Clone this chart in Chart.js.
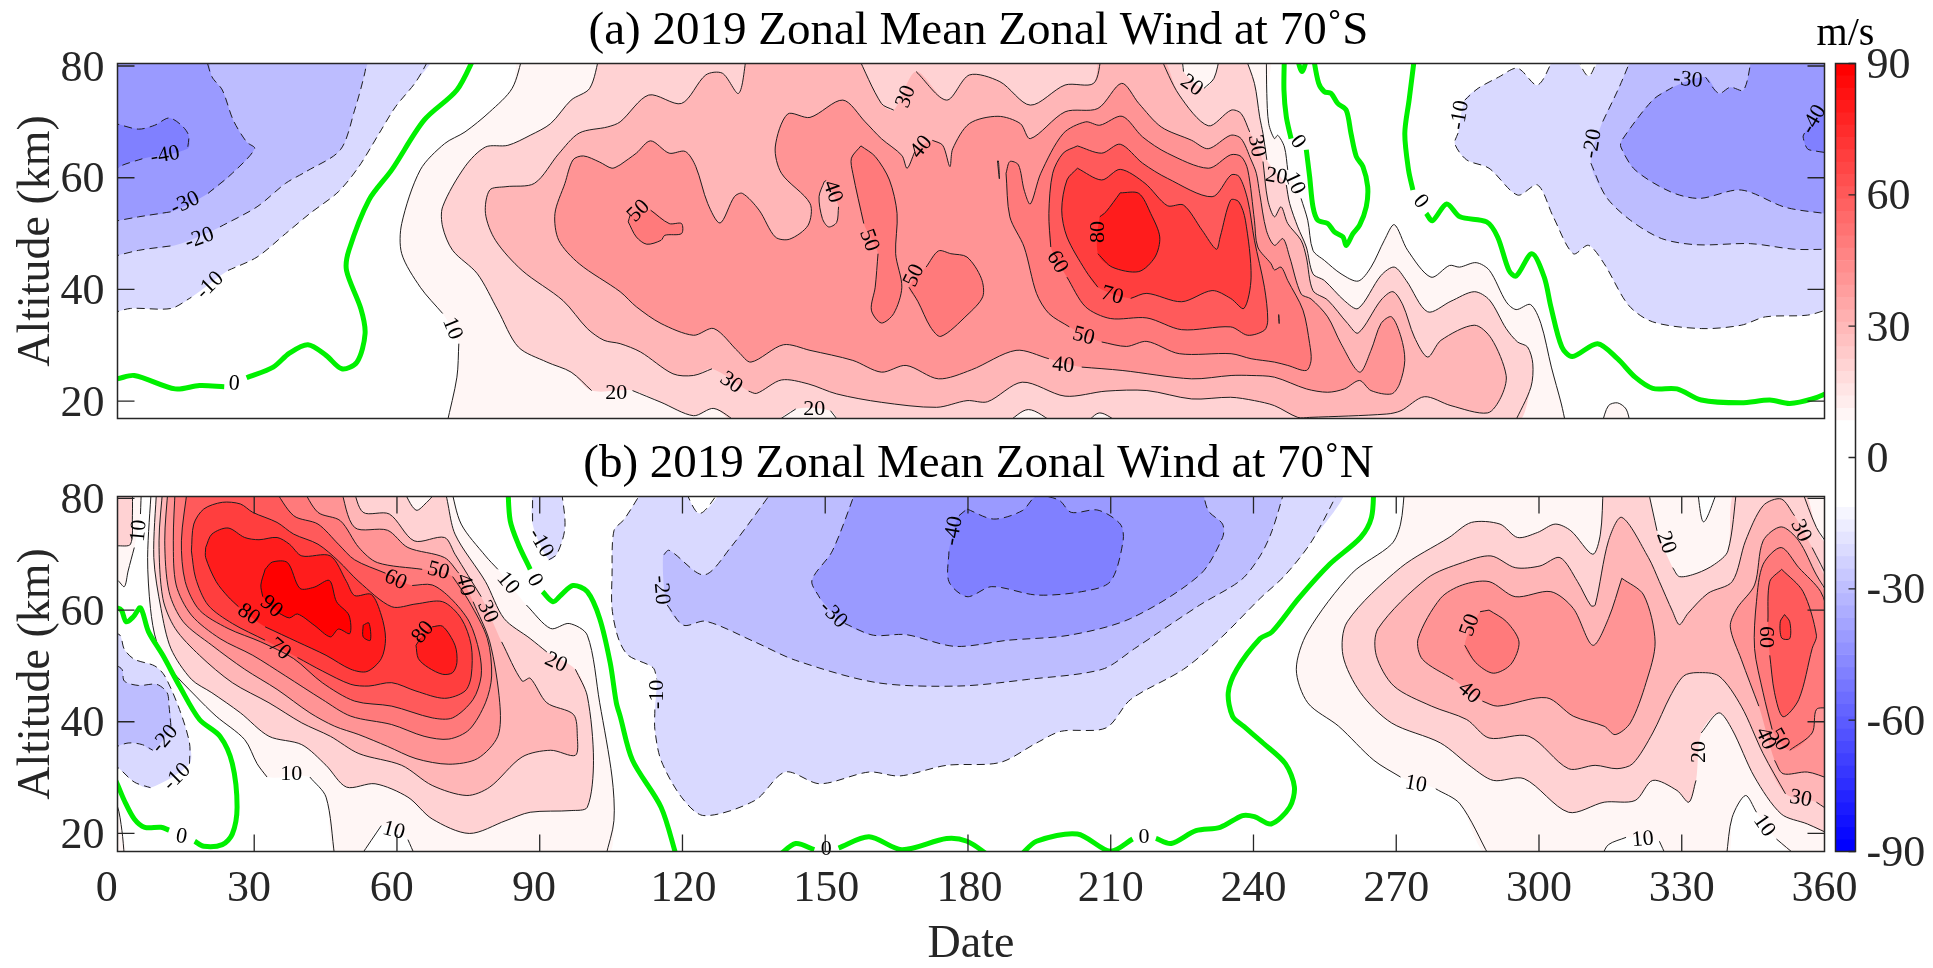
<!DOCTYPE html>
<html><head><meta charset="utf-8"><title>2019 Zonal Mean Zonal Wind</title>
<script src="https://cdn.jsdelivr.net/npm/chart.js@4/dist/chart.umd.js"></script>
<style>
html,body{margin:0;padding:0;background:#fff;overflow:hidden;width:1933px;height:968px}
canvas{position:absolute;display:block}
</style></head><body>
<canvas id="ca" width="1957" height="455" style="left:0;top:0"></canvas>
<canvas id="cb" width="1957" height="535" style="left:0;top:433px"></canvas>
<canvas id="cc" width="175" height="968" style="left:1758px;top:0"></canvas>
<script>
const N = null; // break in a contour: label gap or edge of plot
const xTickValues = [30,60,90,120,150,180,210,240,270,300,330];
const xTickLabels = ['0','30','60','90','120','150','180','210','240','270','300','330','360'];
const xLabelDays  = [-1,28.9,58.9,88.8,120.2,150.2,180.3,210,240,270,300,330,360];
const yTickValues = [20,40,60,80];

/* Panel (a) contours: day, altitude(km) pairs */
const a10 = [70.5,16,72.6,24.3,73,30.3,N,69.6,35.7,64.9,40.4,61,46.4,61,51.8,64.9,61.4,70,66.1,74.3,68.2,79.5,71.8,84.2,76,86.5,82,N,242.7,82,242.8,75.1,243.2,69.7,244.4,67,245.1,67.6,246.5,65.5,247.2,61.4,N,250,56.3,251.4,52.4,252.5,47,254.9,45.2,258.4,42.8,262,41.5,264.7,44,267.5,48.8,269.6,51.6,272.4,47,277.3,42.2,281.2,44.3,283.3,44,286.8,44.8,289.6,43.4,293.1,37.8,295.2,36.4,298.2,37.3,300.4,33.9,302.6,26.1,304.7,19.5,305.6,16];
const a10b = [313.2,16,314.6,19.2,316.5,19.7,318.3,18.6,319.2,16];
const a20 = [102.6,82,100.5,76,96.6,73.9,92.3,69.7,88,67.6,83.3,65.8,78.6,65.5,74.3,62,69.6,54.8,69.6,51.2,71.7,47,76.9,42.8,81.2,36.3,85.5,29.7,91.5,27,96.6,25.2,100.9,21.9,N,109.5,21.9,115.5,19.8,122.3,17.4,126.6,18.7,131.8,16,N,294.8,16,298.3,22.5,298.7,26.7,297.6,29.7,295.5,30.6,293.1,33,289.6,38.1,286.4,39.6,281.5,37.9,276.6,36,272.1,41.6,269.6,44,266.8,42.5,262,36.6,259.1,38,254.9,41.6,252.5,42.8,251.1,47.6,249.3,51.2,247.6,55.4,246.9,58.7,N,242.8,63.2,242,67.9,241.3,70.9,240.2,76.9,238.1,82];
const a20t = [224.9,82,225.3,79,N,229.6,76,231.7,77.8,233,82];
const a20p1 = [139.1,16,143.8,18.6,N,151.1,18.3,153.2,16];
const a20p2 = [188,16,192.7,18.5,198.3,16];
const a20p3 = [204.7,16,207.7,17.9,212,16];
const a30 = [133.5,82,131.8,75.1,128.4,78.7,124.9,78.4,119.8,73.3,112.9,74.8,106.9,70,104.3,69.1,98.3,68,94,64.3,88.9,59,82.9,58.4,79.5,57.8,78.6,53.6,80.7,48.8,86.3,43.4,94.9,38,100,33,103.5,30.9,106.9,30.3,111.2,28.8,118,24.9,122.3,24.6,126.2,25.8,N,133.9,21.8,135.6,21.4,140.8,23.8,146.4,23.1,152.4,21.3,161.8,19.8,173.4,18.9,179.8,20.1,184.1,19.9,191.4,23.4,200.4,20.9,209,21.8,217.6,21.9,227,20.4,235.2,20.7,240.2,20.1,244.4,19.2,249.3,17.1,251.8,17.1,268,17.7,271,18.3,275.9,20.8,281.5,19.2,289.2,17.9,292,20.7,293.1,24.6,290,31.2,286.4,33.6,279.4,30.9,276.6,27.9,273.8,31.5,271.4,37.2,269.3,39.6,266.8,38.1,262,32.2,259.8,33.9,255.6,38.1,252.5,39.8,251.1,45.8,250,48.8,247.2,51.8,245.8,54.8,244.4,53,243,56,242,62.9,N,239.2,68.2,237.4,71.5,235.3,72.1,230.5,69.3,224.4,74.8,220.2,82,N,208.1,82,206.4,76.9,200.4,76.6,193.1,73,186.7,77.2,180.3,78.4,175.5,73.9,169.1,79,N,164.4,72.1,161.8,73.3,156.7,82];
const a40 = [106.9,62.3,110.3,64.4,113.3,66.6,117.2,64.4,120.6,64.7,122.8,62,125.3,55.4,127.9,51.9,130.9,56.6,132.6,57.2,136.1,54.2,139.5,49.4,142.5,49,146.4,51.5,146.8,55.4,140.8,60.8,139.5,65.5,142.1,71.4,146.8,70.8,153.7,73.9,158.4,70,161.8,67,166.1,64,167.2,61.7,168.8,64.6,N,172.5,66.7,174.7,65.8,176.2,62,176.8,65.2,180.3,69.7,186.3,71,191,69.7,193.1,67,200.4,71.8,207.3,72.4,212.3,76.9,215.9,73.3,220.6,69.1,227,66.7,230.5,65.2,235.2,67.6,237.4,67,239.5,63.2,240.6,60.8,241.3,57.2,242.7,50.6,244.4,47.9,246.2,49.1,247.6,45.8,250,39.2,252.1,38.3,255.6,35.1,258.4,30.3,262.3,25.2,264.7,29.1,266.8,33.9,269,35.1,271,31.5,271.8,27.3,270.7,23.1,269,21.3,264.7,21.9,262.3,23.7,259.1,22.2,255.6,21.6,251.1,22.2,244.4,24.3,239.5,24.6,235.3,24.6,227,24,212.4,25.5,203.9,26.1,N,197,27.6,190.1,29.1,180.7,25.6,173.8,24,167,26.4,161.8,25.2,155.8,27.3,146.8,29.1,141.2,30.1,134.4,27,131.8,28.8,126.6,33,122.3,31.8,115.5,33.9,110.3,36.9,106.9,39.6,98.3,44.6,94,48.8,93.2,53.6,95.3,59,97,63.2,99.2,63.9,102.6,62.8,105.2,61.7];
const a40h = [149.8,59.3,148.7,56.6,149.4,52.7,150.7,51.2,152.4,52,152.8,54.8,N,150.2,59.5];
const a40s = [186.2,63,186.6,59.8,186.4,63];
const a50a = [108.6,52.1,109,53.3,N,113.3,54.2,117.2,51.8,119.8,51.8,119.8,50,116.3,49.7,115.5,48.8,112.5,48.1,110.3,49.4];
const a50b = [157.5,65.7,160.5,63.8,163.5,59.6,165.1,53.6,164.8,46.4,166.1,40.4,164.4,35.7,161.8,34,159.7,36.3,160.5,40.4,161.1,46.4,N,158.1,51.8,155.8,60.8,155.5,63.5];
const a50c = [171.2,44,173.8,46.9,176.4,46.4,179.8,45.8,182.8,42,183.1,38.7,179.8,35.4,174.3,31.6,172.1,33.3,169.5,37.8,167.6,40.4,N];
const a50d = [188,60.8,188.8,62.9,190.6,62.3,191.8,57.8,193.1,55.3,195.3,60.8,200,67.9,204.7,70,207.7,69.4,212.4,71,216.7,67.3,221.9,64.4,230.5,61.7,235.2,64.1,237.4,63.8,238.8,61.4,240.2,52.4,240.9,47.6,243.7,44.6,244.4,43.5,245.8,44,247.2,41.6,250.4,36.3,251.8,30.3,252.1,27.3,251.1,25.5,247.2,26.4,244.4,27,239.5,27.6,235.3,28.5,224.4,28.5,217.6,30.7,213.3,29.8,208.1,30.6,N,201.3,33.3,197,35.7,194.4,39.3,191.8,47.6,188.8,53];
const a60 = [203,65.7,200,64.4,197.8,60.8,197,53.6,197.4,47.6,N,200.8,42.2,204.7,36.9,209.9,34.8,217.6,34.9,224.9,32.8,235.2,33.3,238.8,31.8,242.3,32.7,243,34.5,242.3,40.4,240.2,48.8,238.8,56,237,60.2,235.3,60.5,231.3,56.6,221.9,59.9,216.7,62.6,212,66,208.1,64.4];
const a60s = [245.3,35.5,245.4,33.9,245.3,35.5];
const a70 = [203,61.7,200.8,59.6,199.7,54.2,200.8,49.4,204.7,43.4,207.3,40.4,N,214.2,38.4,217.6,39.3,224.9,37.8,231.3,39.8,235.2,38.4,238,36.6,239.5,42.2,238.3,52.4,236.9,55.7,235.2,56,233,49.4,232.2,47.2,229.2,50.6,225.3,55.1,221.9,55,217.2,59,212,61.5,208.1,59.6];
const a80 = [212,57.3,209,53.9,207.7,53,N,207.3,46.4,210.3,44,215.9,43.2,219.3,45.8,220.3,49.4,218.4,53.6,215.9,57.2];
const an10 = [0,35.7,4,36.6,12.5,36.6,16.8,38.6,N,24.5,43.4,30.6,45.8,36.6,50,41.7,53.6,47.7,57.5,52,62,56.3,68,59.7,72.7,64,77.2,67.2,82,N,-6,88,-6,35.7];
const an20 = [0,45.8,5.7,47,13.4,47.9,N,22.8,51.2,30.6,54.8,36.6,59,40.9,61.1,48.1,65,51.1,72.1,53.3,79,53.7,82,N,-6,88,-6,45.8];
const an30 = [0,52.1,5.7,53,12.5,53.9,N,20.3,57.2,25.4,60.8,30.1,65.2,28.4,66.4,25.6,70.3,23.3,75.7,21.1,78.1,19.7,82,N,-6,88,-6,52.1];
const an40 = [0,69.7,1.2,69.6,5.7,68.7,9.1,69.4,12.1,70.7,14.7,69.4,16.2,67.6,16,65.2,N,6.5,63.4,2.2,62.2,0,61,N,-6,61,-6,69.7];
const an10r = [303.4,82,299.7,76.6,295.5,79.6,291.5,78,287.2,76,284.4,73.9,N,283,68,282.3,66.1,284.8,63.2,289.5,61.7,295.5,56.9,299.7,58.7,303,53,307.2,46.4,310.4,47.9,313.7,44.6,318.8,37.2,323.9,34.2,334.1,33,342.5,33.6,347.6,35.1,356.4,35.4,361,36.5,N,368,36,368,88,312.7,88,N,312.7,82,310.4,78.2,307.6,82,N,307,88];
const an20r = [319.7,82,316.9,76.3,313.2,69.7,N,310.9,62.6,314.1,56.6,319.2,52.4,325.8,49.1,333.2,48,344.4,48.2,353.7,47.2,361,47.2,N,368,47,368,88];
const an30r = [344.8,82,343,75.7,340.2,76.2,337.8,75.1,335,78,N,328.1,76.2,323.9,73.9,317.4,66.7,317.2,65.5,320.2,61.4,327.6,57.5,333.7,56.3,342.5,57.8,351.8,54.7,361,53.5,N,368,53,368,88];
const an40r = [362,74.5,361,73.4,N,355.8,68,355.5,67.3,356.4,65.2,358,64.8,362,64.3,N,368,64,368,75];
const ag1 = [0,24,1.2,24,4.8,24.6,13.4,22.2,18.5,22.8,23.7,22.6,N,28.4,24.2,34,26.1,37.4,28.6,41.3,30.1,45.1,28.2,48.4,25.8,51.6,27,53.3,32.1,52.4,36.6,49.4,43.4,49.9,47,54.1,56,58.9,61.4,65.7,70.3,72.6,75.7,76.5,82];
const ag2 = [246.5,82,246.4,75.7,246.9,70.9,247.9,67,N,251.1,65,251.8,60.2,252.5,54.8,253.5,52.4,255.6,51.8,257,50.3,258.8,49.4,259.5,47.9,260.9,50,262.3,51.5,263.7,54.8,264,58.4,263,62,261.6,63.8,260.5,67.9,259.5,72.1,257.7,73.3,256.3,75.1,254.9,75.4,253.7,76.9,252.5,82];
const ag3 = [249,82,250.2,79,251.4,82];
const ag4 = [273.9,82,272.7,73.9,271.8,67.9,272.6,61.3,273.5,57.8,N,276.3,53.6,277.6,52.3,280.6,55.3,283.4,53,289,52.1,291.3,49.4,293.7,43.4,295.2,42.4,298.5,46.4,301.1,42.2,302.5,36.9,304.8,29.7,307,28,312.3,30.3,316.5,27.6,320.2,24.3,323.9,22.3,329,22.2,334.1,20.2,342.5,19.7,348.5,20.2,352.7,19.6,357.4,20.4,362,22];

/* Panel (b) contours */
const b10c = [6.3,82,6.1,77.2,N,4.8,71.2,3.5,67,2.7,64.2,1.2,65.4,0,65.4,N,-6,66,-6,88];
const b20c = [4.4,82,4.4,76.9,4,71.8,1.2,71.5,0,71.5,N,-6,71.5,-6,88];
const b10l = [0,25.5,1.2,25,2.2,20.5,2.7,16,N,-6,16,-6,25.5];
const b10 = [8.4,82,7.6,69.4,8.2,60.3,9.5,54.3,12.5,49.4,17.7,44.6,22,41,28,36.8,30.6,32.5,32.7,30.1,N,41.7,30.1,45.1,26.5,46.9,16,N,52.4,16,56.7,21.4,N,62.3,18.9,63.8,16,N,103.9,16,105.6,22.3,105.2,30.1,102.6,43.4,100,55.5,96.2,57.6,92.3,56.7,87.2,60.9,N,81.2,67.3,78.6,69.7,73.5,75.4,71.3,82];
const b20 = [9.5,82,8.9,69.4,10.4,60.3,12.5,53.1,16.8,47.6,21.1,45.2,27.1,41.6,33.1,37.4,40,35.9,45.1,32.2,49.4,28.3,55.4,28.9,62.3,26.5,67.4,22.6,75.2,20,82.9,22.3,88,23.8,96.6,24.1,100,24.7,101.3,33.1,100,44.6,97.5,49.4,N,91.5,52.5,88,54.9,82.5,58.5,78.6,65.1,72.2,73.6,69.6,82,66.5,79.5,64,77.9,61,82];
const b30 = [10.8,82,10,72.4,10.8,62.1,13.4,56.7,18.5,51.9,25.4,47,33.1,43.4,40,39.8,46,37.4,52,34.3,61,32.2,67.4,28.6,74.7,26.8,79.5,28.3,86.3,33.7,92.3,34.9,97.5,34,97.9,37.4,97.1,41.3,91.5,43.4,88,47.8,86.3,47.3,82,54.3,N,77.7,62.4,72.2,70,70,73,63.6,72.4,58.4,77.2,52.9,77.5,50.7,82];
const b40 = [11.9,82,11.2,72.4,12.1,63.3,15.1,57.9,21.1,53.7,28,49.4,34.8,45.8,41.7,41.6,46.9,39.2,52,37.7,58,35.6,64,33.4,70.9,32.4,76.9,33.4,81.2,37.4,81.6,43.4,79.5,54.3,76,61.5,N,73,66.6,70,69.4,62.3,71.2,58,74.3,51.1,74.8,48.1,82];
const b50 = [13.4,82,13,72.4,13.6,64.5,16.8,59.1,22.8,54.9,29.7,51.9,36.6,48.2,44.3,44,50.3,41,58.9,39.5,65.7,37.4,70.9,36.9,75.2,38.6,78.6,43.4,79.9,48.2,79,54.9,75.2,61.5,71.7,66,N,65.3,67.3,55.9,68.5,52,71.2,48.1,76,43.4,77.5,40,82];
const b60 = [16,82,14.7,72.4,15.5,65.1,18.5,60,24.5,56.7,31.4,54.3,38.3,51.3,44.3,47,51.1,43.7,58.9,42.8,67.4,40.7,71.7,40.7,76,44,77.7,48.2,77.3,52.5,75.2,57.9,71.3,62.1,67.4,64.5,63.2,64.4,N,57.6,66.6,51.1,69,47.7,71.8,43.4,75.4,38.3,76.9,34,82];
const b70 = [16.8,70.6,17.3,75.4,19.4,78.1,23.3,79.3,27.1,79,29.7,77.5,34.8,75.7,38.3,73.6,43.4,71.8,47.7,68.8,52,65.1,58.9,60.6,64,61.1,69.6,61.5,73.5,58.5,75.6,53.7,75.6,48.2,74.3,45.5,70,44.2,64,45.5,58.9,47,54.1,46.4,50.3,46.7,44.3,49.1,39.1,51.5,N,32.3,54.6,25.4,57.6,20.3,60.9,17.7,65.7];
const b80 = [19.8,71.2,21.1,73.6,24.5,74.7,28,73,31,72.6,34.8,73,37.4,71.8,40,69.7,46,69.7,49.4,65.1,51.1,62.6,54.6,62.8,56.7,59.1,57.6,54.9,56.7,51.3,53.7,49,50.3,49.4,45.1,51.9,39.1,54.3,32.3,57,N,26.7,60.6,24.5,62.4,22,65.1,19.8,69.4];
const b80b = [64,53.7,64.9,54.9,N,67.4,57,69.6,57.1,72.2,53.7,72.6,50.6,71.7,48.8,69.6,48.5,66.6,49.7,64.5,51.3];
const b90 = [32.3,67.3,33.8,68.6,37,68.5,39.6,63.9,42.6,64.1,45.8,65.3,47.3,61.5,49.9,59.1,50.1,55.8,47.7,56.6,46,55.2,42.6,57.3,39.1,59.3,37.4,58.6,35.3,59.4,N,31.8,62.4,31.4,64.5];
const b90s = [52.9,57.3,54.1,57.7,54.4,54.6,52.9,55.2];
const b10r = [271.8,82,270.9,75.4,269,71.8,260.7,66.6,251.4,56.1,249,49.4,251.4,43.4,257.9,39.2,265.3,33.1,270.9,30.1,N,278.3,28,283.4,25.3,289.5,16,N,313.2,16,314.6,18,318.3,19.3,N,325.3,18.6,326.7,16,N,339.4,16,340.6,22.9,343.4,26.8,345.7,23.8,N,349.9,19,354.1,16,N,368,16,368,88,337.8,88,N,337.8,82,334.6,75.8,333.2,82,N,330,88];
const b20r = [313.5,82,312.9,73.6,311.3,70,306.7,74.2,303.4,75.4,299.7,73.9,295.5,73,291.8,75.4,285.8,75.7,281.1,73,270.9,67.6,259.7,57.9,258.8,51.9,262.5,45.2,269,39.8,279.3,36.2,285.8,31.9,290.4,29.5,296.9,29.8,306.2,23.8,313.7,25.6,320.2,25.9,323.9,29.5,329,27.7,331.5,25.6,333,29.5,N,334.1,38,337.8,41.6,340.6,38.6,345.3,30.1,350.9,23.5,356.4,21.7,362,19.5,N,368,19,368,71.5,N,361,71.4,358.3,74.8,355,82,N,341.6,82,339.7,70.6,336.9,68.2,333.2,66.6,329.5,66,328.1,67.6,N,324.8,74.2,322.8,82];
const b30r = [362,23.5,358.3,25.6,N,351.8,27.1,347.1,34.3,342.5,42.8,337.8,48.2,333.2,48.8,330.4,48.2,327.6,44.6,323.9,38,319.7,32.5,316.4,31.6,311.8,32.2,306.2,31.6,297.9,37.4,289.5,37.1,284.8,40.4,277.4,42.8,269.5,46.4,265.8,51.9,266.2,56.7,276.5,65.7,283.9,68.5,289.9,69.7,295,67.6,300.2,67.9,304.4,69.4,308.1,65.1,310.9,60.8,311.8,60.9,314.6,72.4,317.4,76.6,323,69.4,325.3,65.1,328.1,59.7,329.5,57.4,331.3,59.4,335.5,63,340.6,65.1,343.4,72.4,347.1,78.7,350.9,79.9,353.7,76.9,N,357.4,71.2,361,65.2,N,368,65,368,23];
const b40l = [317.4,65.7,322,62.7,324.4,54.3,322.5,47,319.2,39.8,316,37.7,313.7,39.2,307.2,41,301.6,44.3,291.3,42.8,288.1,43.7,N,282,47.6,275.5,51.2,274.6,54.9,279.3,62.1,283.9,64.5,289.5,65.1,295,62.4,302.5,63.3,307.2,60.3,311.3,53.7,314.6,58.5];
const b40r = [361,29.8,356.4,31,351.3,30.7,349.5,33.1,N,346.2,42.8,342.5,51.2,340.2,57,341.6,60.3,345.3,64.5,347.1,72.4,350.9,74.9,354.6,72.4,358.3,66.3,361,62.6,N,368,62,368,30];
const b50i = [289.5,60,293.2,57.9,295.8,54.3,294.1,50.3,290.4,48.7,286.7,50.6,284.4,53.7,N,287.6,59.7];
const b50r = [361,42.5,358.3,42.2,357.4,38,352.7,34.9,N,349,38.6,347.1,45.2,345.3,53.1,345.7,61.5,347.1,68.2,350.9,71.2,354.6,67.6,359.2,63.3,361,58.6,N,368,58,368,43];
const b60r = [351,67.3,348.5,65.1,348.1,57.9,N,348.5,51.9,349.5,45.2,351.3,40.9,354.6,44,357.4,53.1,358.3,55.5,355.5,63.3];
const b70r = [351.6,59.2,352.7,57.9,352.7,54.9,351,55,350.7,57.9];
const bn10l = [0,32,1.2,31.9,4.8,29.2,8.2,28.2,N,16.4,32.5,16.4,36.2,14.3,42.2,11.2,48.2,9.1,50,4.8,51.2,2.7,53,1.8,55.5,0,56,N,-6,56,-6,32];
const bn20l = [0,35.2,3.5,36.2,6.5,35.9,8.7,34.9,N,12.5,39.2,12.1,42.8,11.7,45.2,9.5,46.7,5.7,46.5,2.7,47.3,2.2,49.4,0,50.5,N,-6,50.5,-6,35.2];
const bn10t = [88.5,82,88.5,75.4,N,91.9,69,93.6,70,95.3,74.8,94.5,82];
const bn10 = [112,82,107.8,76.3,105.6,74.2,105.2,66.3,105.2,60.3,106.5,55,108.6,51.9,113.8,49.7,114.6,47.6,N,114.2,42.2,114.2,38.6,115.5,33.1,119.8,26.5,124.5,23.2,135.2,25.9,141.6,31,148.9,28.9,159.2,31,165.7,30.3,175.5,32.2,186.7,32.7,194.4,36.2,199.6,38.3,209,38.9,214.2,44,225.3,49.4,233,54.9,241.4,62.1,246.7,66.3,252.3,72.4,258.3,82,N,128.4,88,N,128.4,82,123.6,77.3,120.2,82,N,116,88];
const bn20 = [139.5,82,130.1,71.2,124.5,66.3,117.2,70.7,115.9,69.7,N,116.8,60.9,120.2,57.3,124.9,58,135.2,54.3,143.8,51,160.9,47,178.1,46.4,192.7,47.6,208.2,49.4,215,53.1,228.7,60.9,237.4,65.4,241.4,69.7,243.9,74.2,246.7,82];
const bn30 = [156.7,82,151.5,70.6,147.2,65.3,148.9,62.1,N,154.1,57.6,160.1,55.5,167,55.6,177.3,53.5,188.4,54.6,201.3,55.5,214.2,58.5,228.7,66.3,233.5,73,233.5,75.4,230.5,77.8,229.2,82];
const bn40 = [179.8,78.1,185.4,76.3,191.4,77.8,194.4,80.4,199.1,79.7,201.7,77.5,207.3,77.9,212,75.4,212.6,72.4,209.9,65.1,203.9,63.3,194.4,62.7,185,64.2,179.8,62.4,176,65.1,176,70.6,N,178.1,76.9];
const bg1 = [0,60.4,1.2,60.4,2.1,60,3.1,57.9,4.6,58.8,6.1,60.4,7.8,56.1,10.8,51.9,14.3,46.4,18.5,40.4,22.8,37.4,25.4,32.5,26.4,24.7,25.4,19.9,23.3,18,19.4,17.7,17.5,18.6,N,12.1,20.6,10.4,21.1,7,21.1,4.8,22.6,2.7,25.9,1.2,28.9,0,31];
const bg2 = [83.3,82,83.8,76,85.5,71.8,88,67.3,N,90.6,63.3,92.8,61.5,94.5,62.7,97,64.4,100,63.3,102.6,58.5,104.8,50.6,106.1,43.4,106.9,41,109.5,33.1,115.5,24.7,118.7,16];
const bg3 = [140.2,16,143.8,18.2,147.7,17.1,N,152.8,17.4,159.2,19.4,166.1,17.1,175.5,19.1,179.8,18.6,184.5,16];
const bg4 = [191,16,194.4,18.6,203,19.9,209.9,16.8,214.6,19,N,219.5,19.1,222.7,18.2,227.9,20.5,233,21.1,237.7,23.2,240.2,23,243.7,21.7,247.6,24.7,248.6,28.3,246.7,32.5,242,36.2,237.9,39.2,235.6,41,234.7,45.2,236.5,49.4,241.4,54.9,243.9,56.1,249.5,62.1,256,68.2,262.5,73,264.8,76.6,265.3,82];

/* Contour labels: day, altitude, text, rotation in degrees */
const labelsA = [[25.8,23.1,'0',4],[20.7,40.7,'-10',-45],[18.5,49.1,'-20',-20],[15.5,55.4,'-30',-25],[11.3,64,'-40',-10],[71.6,33,'10',68],[106.1,21.4,'20',0],[130.2,23.3,'30',35],[147.7,18.5,'20',0],[110.8,54,'50',-45],[151.5,57.5,'40',70],[159.2,48.8,'50',70],[168.7,42.5,'50',-65],[170.2,65.5,'40',-50],[167,74.5,'30',-70],[207.3,50.3,'80',-90],[198.7,44.9,'60',60],[210.3,38.9,'70',15],[204.3,31.6,'50',15],[200,26.4,'40',5],[227,76.5,'20',35],[240.6,65.7,'30',80],[244.8,60.2,'20',10],[248.6,59,'10',65],[249.3,66.4,'0',55],[275.1,55.7,'0',50],[283.4,71.2,'-10',-80],[311.3,66.1,'-20',-80],[331.3,77.5,'-30',5],[357.8,70.4,'-40',-60]];
const labelsB = [[5.8,74.2,'10',-85],[14.7,19.4,'0',10],[11.2,36.9,'-20',-50],[13.8,30.1,'-10',-45],[28.8,59.2,'80',35],[33.6,60.6,'90',40],[35.3,53,'70',40],[59.7,65.4,'60',25],[68.7,67,'50',15],[74.3,64.5,'40',75],[79,59.7,'30',65],[93.4,50.6,'20',25],[83.3,64.8,'10',50],[88.9,65.3,'0',60],[90.2,72,'-10',60],[65.5,56,'80',-50],[37.8,30.6,'10',0],[59.3,20.5,'10',15],[115.5,63.6,'-20',85],[114.6,44.9,'-10',-90],[151.7,59.2,'-30',45],[177,74.2,'-40',-80],[150.2,17.2,'0',0],[217,19.3,'0',0],[274.1,28.8,'10',10],[285.3,45.2,'40',40],[285.5,57.3,'50',-70],[326.7,72.1,'20',70],[333.7,34.6,'20',-90],[321.8,18.9,'10',-5],[355,74.2,'30',65],[347.6,55.2,'60',90],[347.6,37,'40',65],[350.4,36.8,'50',60],[355,26.2,'30',10],[347.3,21.4,'10',55]];

/* band painted inside each contour, level of the line, points, closed loop? */
const panelA = [[10,10,a10],[10,10,a10b],[20,20,a20],[10,20,a20t],[10,20,a20p1],[10,20,a20p2],[10,20,a20p3],[30,30,a30],[40,40,a40,1],[30,40,a40h,1],[30,40,a40s,1],[50,50,a50a,1],[50,50,a50b,1],[50,50,a50c,1],[50,50,a50d,1],[60,60,a60,1],[60,60,a60s,1],[70,70,a70,1],[80,80,a80,1],[-10,-10,an10],[-20,-20,an20],[-30,-30,an30],[-40,-40,an40],[-10,-10,an10r],[-20,-20,an20r],[-30,-30,an30r],[-40,-40,an40r],[0,0,ag1],[0,0,ag2],[0,0,ag3],[0,0,ag4]];
const panelB = [[10,10,b10c],[20,20,b20c],[10,10,b10l],[10,10,b10],[20,20,b20],[30,30,b30],[40,40,b40],[50,50,b50],[60,60,b60],[70,70,b70,1],[80,80,b80,1],[80,80,b80b,1],[90,90,b90,1],[90,90,b90s,1],[10,10,b10r],[20,20,b20r],[30,30,b30r],[40,40,b40l,1],[40,40,b40r],[50,50,b50i,1],[50,50,b50r],[60,60,b60r,1],[70,70,b70r,1],[-10,-10,bn10l],[-20,-20,bn20l],[-10,-10,bn10t],[-10,-10,bn10],[-20,-20,bn20],[-30,-30,bn30],[-40,-40,bn40,1],[0,0,bg1],[0,0,bg2],[0,0,bg3],[0,0,bg4]];

const bandColor = {'10':'#FFF6F5','20':'#FFD2D3','30':'#FFB6B7','40':'#FF9495','50':'#FF7A7B','60':'#FF5A5B','70':'#FF3E3E','80':'#FF1C1C','90':'#FF0000','-10':'#D9D9FF','-20':'#BDBDFF','-30':'#9A9AFF','-40':'#8080FF'};
const FONT = '"Liberation Serif"';
const AXIS = '#262626';

function toPoints(flat, closed){
  const pts=[];
  for(let i=0;i<flat.length;){
    if(flat[i]===null){pts.push({x:null,y:null});i++;}
    else{pts.push({x:flat[i],y:flat[i+1]});i+=2;}
  }
  if(closed) pts.push({x:flat[0],y:flat[1]});
  return pts;
}
function buildDatasets(table){
  const fills=[],lines=[];
  table.forEach(([band,level,flat,closed])=>{
    const pts=toPoints(flat,closed);
    if(level!==0) fills.push({yAxisID:'y',data:pts.filter(p=>p.x!==null),fill:'shape',backgroundColor:bandColor[band],borderWidth:0,pointRadius:0,tension:0.3,clip:0,label:'band '+band});
    const isZero=level===0;
    lines.push({yAxisID:'y',data:pts,fill:false,spanGaps:false,borderColor:isZero?'#00F000':'#1e1e1e',borderWidth:isZero?5:1,borderDash:level<0?[8,5]:[],pointRadius:0,tension:0.3,clip:0,label:'level '+level,isGreen:isZero});
  });
  lines.sort((a,b)=>(a.isGreen?1:0)-(b.isGreen?1:0));
  const all=fills.concat(lines);
  all.forEach((d,i)=>{d.order=all.length-i;});
  return all;
}
function panelPlugin(labels,showXTicks){
  return {id:'panelFrame',afterDatasetsDraw(chart){
    const {ctx,chartArea:a,scales:{x,y}}=chart;
    ctx.save();
    ctx.strokeStyle=AXIS;ctx.lineWidth=1.3;ctx.beginPath();
    yTickValues.forEach(v=>{const p=y.getPixelForValue(v);ctx.moveTo(a.left,p);ctx.lineTo(a.left+17,p);ctx.moveTo(a.right,p);ctx.lineTo(a.right-17,p);});
    if(showXTicks) xTickValues.forEach(v=>{const p=x.getPixelForValue(v);ctx.moveTo(p,a.bottom);ctx.lineTo(p,a.bottom-17);ctx.moveTo(p,a.top);ctx.lineTo(p,a.top+17);});
    ctx.stroke();
    ctx.fillStyle='#000';ctx.font='22px '+FONT;ctx.textAlign='center';ctx.textBaseline='middle';
    labels.forEach(([d,h,t,r])=>{ctx.save();ctx.translate(x.getPixelForValue(d),y.getPixelForValue(h));ctx.rotate(r*Math.PI/180);ctx.fillText(t,0,0);ctx.restore();});
    ctx.lineWidth=1.5;ctx.strokeRect(a.left,a.top,a.right-a.left,a.bottom-a.top);
    ctx.restore();
  }};
}
function yAxis(min,max){
  return {type:'linear',position:'left',min,max,
    afterBuildTicks:s=>{s.ticks=yTickValues.map(value=>({value}));},
    afterFit:s=>{s.width=117.5;},
    grid:{display:false,drawTicks:false},border:{display:false},
    ticks:{autoSkip:false,maxRotation:0,padding:13,labelOffset:3,color:AXIS,font:{family:FONT,size:44,lineHeight:1}},
    title:{display:true,text:'Altitude (km)',color:AXIS,font:{family:FONT,size:46,lineHeight:1},padding:{top:14,bottom:0}}};
}
/* empty right-hand axis: reserves the space to the right of the plot */
const rightPad = {type:'linear',position:'right',display:true,afterFit:s=>{s.width=132.5;},grid:{display:false,drawTicks:false},border:{display:false},ticks:{display:false}};
function titleOpt(text){
  return {display:true,text,color:'#000',font:{family:FONT,size:47,lineHeight:1,weight:'normal'},padding:{top:8,bottom:8.5}};
}
Chart.defaults.animation=false;
const lineElem = {capBezierPoints:false,borderJoinStyle:'round',borderCapStyle:'butt'};
new Chart(document.getElementById('ca'),{type:'line',
  data:{datasets:buildDatasets(panelA)},
  options:{responsive:false,devicePixelRatio:1,elements:{line:lineElem},
    layout:{padding:{left:0,right:0,top:0,bottom:0}},
    plugins:{legend:{display:false},tooltip:{enabled:false},title:titleOpt('(a) 2019 Zonal Mean Zonal Wind at 70\u02DAS')},
    scales:{
      x:{type:'linear',position:'bottom',display:true,min:1.27,max:360,afterFit:s=>{s.height=36.5;},grid:{display:false,drawTicks:false},border:{display:false},ticks:{display:false}},
      y:yAxis(16.9,80.45),rPad:rightPad}},
  plugins:[panelPlugin(labelsA,false)]});
new Chart(document.getElementById('cb'),{type:'line',
  data:{datasets:buildDatasets(panelB)},
  options:{responsive:false,devicePixelRatio:1,elements:{line:lineElem},
    layout:{padding:{left:0,right:0,top:0,bottom:0}},
    plugins:{legend:{display:false},tooltip:{enabled:false},title:titleOpt('(b) 2019 Zonal Mean Zonal Wind at 70\u02DAN')},
    scales:{
      x:{type:'linear',position:'bottom',min:1.27,max:360,
        afterBuildTicks:s=>{s.ticks=xLabelDays.map(value=>({value}));},
        afterTickToLabelConversion:s=>{s.ticks.forEach((t,i)=>{t.label=xTickLabels[i];});},
        afterFit:s=>{s.height=116.5;},
        grid:{display:false,drawTicks:false},border:{display:false},
        ticks:{autoSkip:false,maxRotation:0,minRotation:0,padding:12,color:AXIS,font:{family:FONT,size:44,lineHeight:1.2}},
        title:{display:true,text:'Date',color:AXIS,font:{family:FONT,size:46,lineHeight:1},padding:{top:0,bottom:0}}},
      y:yAxis(16.77,80.34),rPad:rightPad}},
  plugins:[panelPlugin(labelsB,true)]});

/* Colour bar: 64 colour steps between -90 and 90 */
const colorbarTicks = [-90,-60,-30,0,30,60,90];
const colorbarSteps = 32;
const stepSize = 90/colorbarSteps;
const barDatasets=[];
for(let i=0;i<colorbarSteps;i++){
  const gr=i<=2?255:Math.round(255*(1-(i-2)/29));
  const gb=i<=3?255:Math.round(255*(1-(i-3)/28));
  barDatasets.push({yAxisID:'y',data:[[i*stepSize,(i+1)*stepSize]],backgroundColor:`rgb(255,${gr},${gr})`,borderWidth:0,grouped:false,barPercentage:1,categoryPercentage:1});
  barDatasets.push({yAxisID:'y',data:[[-(i+1)*stepSize,-i*stepSize]],backgroundColor:`rgb(${gb},${gb},255)`,borderWidth:0,grouped:false,barPercentage:1,categoryPercentage:1});
}
new Chart(document.getElementById('cc'),{type:'bar',
  data:{labels:['m/s'],datasets:barDatasets},
  options:{responsive:false,devicePixelRatio:1,
    layout:{padding:{left:0,right:0,top:0,bottom:116.5}},
    plugins:{legend:{display:false},tooltip:{enabled:false},
      title:{display:true,text:'m/s',color:'#000',font:{family:FONT,size:40,lineHeight:1,weight:'normal'},padding:{top:14,bottom:9.5}}},
    scales:{
      x:{type:'category',display:false,offset:true},
      y:{type:'linear',position:'right',min:-90,max:90,
        afterBuildTicks:s=>{s.ticks=colorbarTicks.map(value=>({value}));},
        afterFit:s=>{s.width=77.5;},
        grid:{display:false,drawTicks:false},border:{display:false},
        ticks:{autoSkip:false,padding:11,labelOffset:3,color:AXIS,font:{family:FONT,size:44,lineHeight:1}}},
      lPad:{type:'linear',position:'left',display:true,afterFit:s=>{s.width=77.5;},grid:{display:false,drawTicks:false},border:{display:false},ticks:{display:false}}}},
  plugins:[{id:'barFrame',afterDatasetsDraw(chart){
    const {ctx,chartArea:a,scales:{y}}=chart;
    ctx.save();ctx.strokeStyle=AXIS;ctx.lineWidth=1.3;ctx.beginPath();
    colorbarTicks.forEach(v=>{const p=y.getPixelForValue(v);ctx.moveTo(a.right,p);ctx.lineTo(a.right-7,p);});
    ctx.stroke();ctx.lineWidth=1.5;ctx.strokeRect(a.left,a.top,a.right-a.left,a.bottom-a.top);ctx.restore();
  }}]});
</script></body></html>
